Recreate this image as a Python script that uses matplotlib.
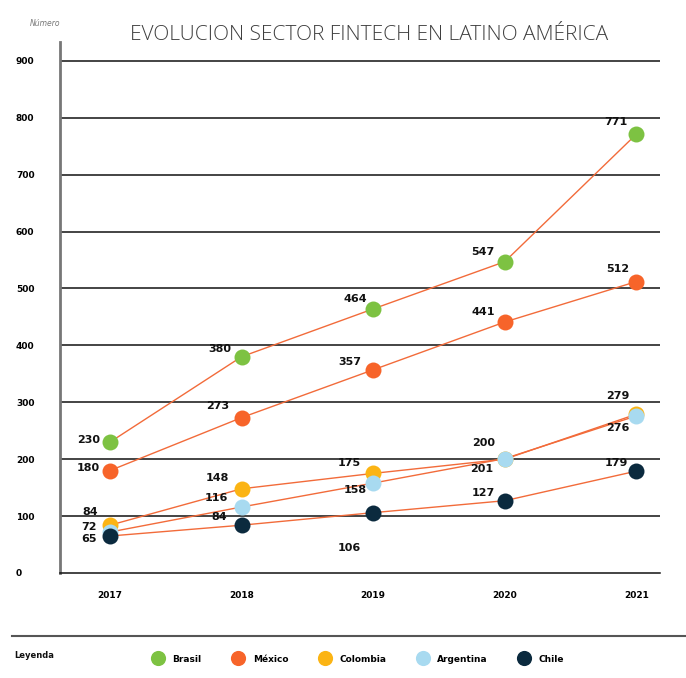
import matplotlib.pyplot as plt
from matplotlib.lines import Line2D

#### Datos del grafico

years = ['2017', '2018', '2019', '2020', '2021']
brasil = [230, 380, 464, 547, 771]
mexico = [180, 273, 357, 441, 512]
colombia = [84, 148, 175, 200, 279]
argentina = [72, 116, 158, 201, 276]
chile = [65, 84, 106, 127, 179]

series = [
    ('Brasil', brasil, '#7dc242'),
    ('México', mexico, '#f7642a'),
    ('Colombia', colombia, '#fbb414'),
    ('Argentina', argentina, '#a8daf0'),
    ('Chile', chile, '#0b2a3e'),
]

# desplazamiento de etiquetas (px): dx, dy
offsets = {
    'Brasil': [(-10, 2), (-10, 8), (-6, 10), (-10, 10), (-9, 12)],
    'México': [(-10, 3), (-12, 12), (-12, 8), (-10, 10), (-7, 13)],
    'Colombia': [(-12, 13), (-13, 11), (-12, 10), (-10, 16), (-7, 18)],
    'Argentina': [(-13, 5), (-14, 9), (-6, -7), (-11, -10), (-7, -12)],
    'Chile': [(-13, -3), (-15, 8), (-12, -35), (-10, 8), (-8, 8)],
}

line_color = '#f26b3a'

fig = plt.figure(figsize=(6.86, 6.78), dpi=100)
ax = fig.add_axes([60/686, 1 - 573/678, 600/686, 531/678])

x = list(range(len(years)))

# lineas primero
for name, vals, col in series:
    ax.plot(x, vals, '-', color=line_color, lw=1, zorder=3)

handles = []
for name, vals, col in series:
    h, = ax.plot(x, vals, 'o', color=col, markersize=11.5, markeredgewidth=0,
                 zorder=4, label=name)
    handles.append(h)
    for i, v in enumerate(vals):
        dx, dy = offsets[name][i]
        ax.annotate(str(v), (x[i], v), xytext=(dx, dy), textcoords='offset pixels',
                    ha='right', va='center', fontsize=8, fontweight='bold',
                    color='#111111', zorder=5)

ax.set_xlim(-0.38, 4.18)
ax.set_ylim(0, 933)
ax.set_yticks([0, 100, 200, 300, 400, 500, 600, 700, 800, 900])
for yv in range(100, 1000, 100):
    ax.axhline(yv, color='#111111', lw=1.1, zorder=1)

ax.set_xticks(x)
ax.set_xticklabels(years)
ax.tick_params(axis='both', length=0, labelsize=6.5)
ax.tick_params(axis='x', pad=13)
ax.tick_params(axis='y', pad=31.7)
for lab in ax.get_yticklabels():
    lab.set_horizontalalignment('left')
    lab.set_fontweight('bold')
for lab in ax.get_xticklabels():
    lab.set_fontweight('bold')

for s in ['top', 'right']:
    ax.spines[s].set_visible(False)
ax.spines['left'].set_color('#777777')
ax.spines['left'].set_linewidth(2)
ax.spines['bottom'].set_color('#111111')
ax.spines['bottom'].set_linewidth(1.1)

fig.text(369/686, 1 - 35/678, 'EVOLUCION SECTOR FINTECH EN LATINO AMÉRICA',
         ha='center', va='center', fontsize=15, color='#3f3f3f',
         family='Open Sans', fontweight='light')
fig.text(45/686, 1 - 24/678, 'Número', ha='center', va='center',
         fontsize=5.5, style='italic', color='#777777')

# separador y leyenda
fig.add_artist(Line2D([12/686, 1], [1 - 636/678, 1 - 636/678],
                      color='#555555', lw=1.5))
fig.text(14/686, 1 - 655/678, 'Leyenda', ha='left', va='center',
         fontsize=6, fontweight='bold', color='#111111')
leg = fig.legend(handles=handles, loc='center', ncol=5,
                 bbox_to_anchor=(359/686, 1 - 659/678), frameon=False,
                 prop={'size': 6.5, 'weight': 'bold'}, markerscale=0.95,
                 handletextpad=1.1, columnspacing=3.55, handlelength=1)

fig.savefig('out.png', dpi=100)
